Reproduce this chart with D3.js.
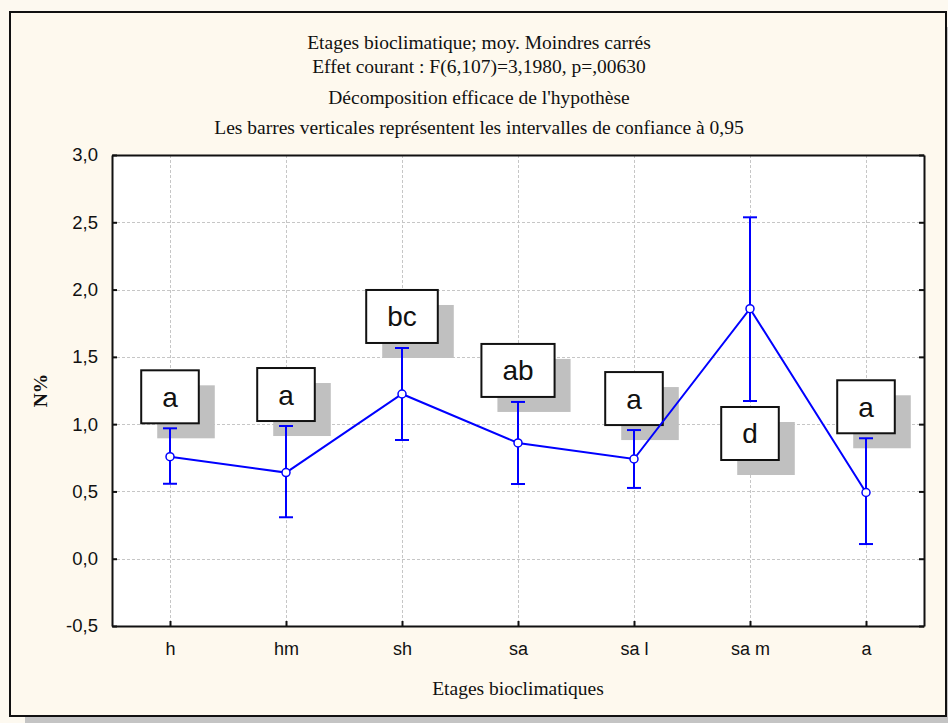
<!DOCTYPE html>
<html>
<head>
<meta charset="utf-8">
<script src="https://cdn.jsdelivr.net/npm/d3@7"></script>
<style>
  html, body { margin: 0; padding: 0; background: #fdf9f0; }
  svg { display: block; }
</style>
</head>
<body>
<svg id="chart" width="948" height="723"></svg>
<script>
// Least-squares means of N% by bioclimatic stage, with 95% confidence bounds
const categories = ["h", "hm", "sh", "sa", "sa l", "sa m", "a"];
const means      = [0.758, 0.640, 1.224, 0.860, 0.741, 1.858, 0.492];
const lowerCI    = [0.557, 0.308, 0.882, 0.555, 0.526, 1.172, 0.109];
const upperCI    = [0.969, 0.986, 1.566, 1.165, 0.956, 2.537, 0.895];
// Homogeneous-group letters and whether each sits above or below its bar
const groupLetters = ["a", "a", "bc", "ab", "a", "d", "a"];
const letterSide   = ["above", "above", "above", "above", "above", "below", "above"];
const yTicks = [-0.5, 0, 0.5, 1, 1.5, 2, 2.5, 3];

const titleLines = [
  "Etages bioclimatique; moy. Moindres carrés",
  "Effet courant : F(6,107)=3,1980, p=,00630",
  "Décomposition efficace de l'hypothèse",
  "Les barres verticales représentent les intervalles de confiance à 0,95"
];
const xTitle = "Etages bioclimatiques";
const yTitle = "N%";

const svg = d3.select("#chart");
const serif = "'Liberation Serif', 'Times New Roman', serif";
const sans = "'Liberation Sans', Arial, sans-serif";

// outer panel with drop shadow
svg.append("rect").attr("x", 25).attr("y", 716).attr("width", 940).attr("height", 8).attr("fill", "#c4c4c4");
svg.append("rect").attr("x", 946).attr("y", 27).attr("width", 8).attr("height", 700).attr("fill", "#c4c4c4");
svg.append("rect").attr("x", 10).attr("y", 12).attr("width", 936).attr("height", 704)
  .attr("fill", "#fef9ee").attr("stroke", "#111").attr("stroke-width", 2);

const plot = { left: 112, right: 924, top: 155, bottom: 626 };

const x = d3.scalePoint().domain(categories).range([plot.left, plot.right]).padding(0.5);
const y = d3.scaleLinear().domain([-0.5, 3]).range([plot.bottom, plot.top]);

// plot background
svg.append("rect").attr("x", plot.left).attr("y", plot.top)
  .attr("width", plot.right - plot.left).attr("height", plot.bottom - plot.top)
  .attr("fill", "#ffffff");

// dashed grid
const grid = svg.append("g").attr("stroke", "#c6c6c6").attr("stroke-width", 1).attr("stroke-dasharray", "3,2");
grid.selectAll("line.h").data(yTicks.slice(1, -1)).join("line")
  .attr("x1", plot.left).attr("x2", plot.right)
  .attr("y1", d => Math.round(y(d)) + 0.5).attr("y2", d => Math.round(y(d)) + 0.5);
grid.selectAll("line.v").data(categories).join("line")
  .attr("y1", plot.top).attr("y2", plot.bottom)
  .attr("x1", d => Math.round(x(d)) + 0.5).attr("x2", d => Math.round(x(d)) + 0.5);

// axes
const fmt = d => d3.format(".1f")(d).replace(".", ",").replace("−", "-");
const yAxisL = d3.axisLeft(y).tickValues(yTicks).tickSizeInner(-5).tickSizeOuter(0).tickPadding(14).tickFormat(fmt);
const yAxisR = d3.axisRight(y).tickValues(yTicks).tickSizeInner(-5).tickSizeOuter(0).tickFormat("");
const xAxisB = d3.axisBottom(x).tickSizeInner(-5).tickSizeOuter(0).tickPadding(16);
const xAxisT = d3.axisTop(x).tickSizeInner(0).tickSizeOuter(0).tickFormat("");

function styleAxis(g, size) {
  g.select(".domain").attr("stroke", "#111").attr("stroke-width", 2);
  g.selectAll(".tick line").attr("stroke", "#111").attr("stroke-width", 2);
  g.selectAll(".tick text").attr("fill", "#111").attr("font-family", sans).attr("font-size", size);
}
svg.append("g").attr("transform", `translate(${plot.left},0)`).call(yAxisL).call(styleAxis, 18.5);
svg.append("g").attr("transform", `translate(${plot.right},0)`).call(yAxisR).call(styleAxis, 18);
svg.append("g").attr("transform", `translate(0,${plot.bottom})`).call(xAxisB).call(styleAxis, 18);
svg.append("g").attr("transform", `translate(0,${plot.top})`).call(xAxisT).call(styleAxis, 18);

// titles
svg.append("g").selectAll("text").data(titleLines).join("text")
  .attr("x", 479).attr("y", (d, i) => [48.5, 72.5, 103.5, 133.5][i])
  .attr("text-anchor", "middle").attr("font-family", serif).attr("font-size", 19.5).attr("fill", "#111")
  .text(d => d);

svg.append("text").attr("x", (plot.left + plot.right) / 2).attr("y", 695)
  .attr("text-anchor", "middle").attr("font-family", serif).attr("font-size", 19.5).attr("fill", "#111")
  .text(xTitle);

svg.append("text").attr("transform", `translate(47,${(plot.top + plot.bottom) / 2}) rotate(-90)`)
  .attr("text-anchor", "middle").attr("font-family", serif).attr("font-size", 19.5)
  .attr("font-weight", "bold").attr("fill", "#111").text(yTitle);

// group-letter boxes with offset shadow
const boxH = 53, shadowDx = 16, shadowDy = 15;
const boxes = svg.append("g");
categories.forEach((c, i) => {
  const cx = x(c);
  const g = boxes.append("g");
  const t = g.append("text").attr("font-family", sans).attr("font-size", 28).text(groupLetters[i]);
  const tw = t.node().getComputedTextLength();
  const w = Math.max(55, tw + 42);
  const top = letterSide[i] === "above" ? y(upperCI[i]) - 5 - boxH : y(lowerCI[i]) + 6;
  g.insert("rect", "text").attr("x", cx - w / 2 + shadowDx).attr("y", top + shadowDy)
    .attr("width", w).attr("height", boxH).attr("fill", "#c0c0c0");
  g.insert("rect", "text").attr("x", cx - w / 2).attr("y", top)
    .attr("width", w).attr("height", boxH).attr("fill", "#fff")
    .attr("stroke", "#111").attr("stroke-width", 2);
  t.attr("x", cx).attr("y", top + boxH / 2 + 10).attr("text-anchor", "middle").attr("fill", "#111");
});

// confidence intervals
const blue = "#0000ff";
const ci = svg.append("g").attr("stroke", blue).attr("stroke-width", 2);
categories.forEach((c, i) => {
  const cx = x(c);
  ci.append("line").attr("x1", cx).attr("x2", cx).attr("y1", y(lowerCI[i])).attr("y2", y(upperCI[i]));
  ci.append("line").attr("x1", cx - 7).attr("x2", cx + 7).attr("y1", y(lowerCI[i])).attr("y2", y(lowerCI[i]));
  ci.append("line").attr("x1", cx - 7).attr("x2", cx + 7).attr("y1", y(upperCI[i])).attr("y2", y(upperCI[i]));
});

// mean line and markers
const line = d3.line().x((d, i) => x(categories[i])).y(d => y(d));
svg.append("path").datum(means).attr("d", line).attr("fill", "none").attr("stroke", blue).attr("stroke-width", 2);
svg.append("g").selectAll("circle").data(means).join("circle")
  .attr("cx", (d, i) => x(categories[i])).attr("cy", d => y(d)).attr("r", 4)
  .attr("fill", "#fff").attr("stroke", blue).attr("stroke-width", 1.5);
</script>
</body>
</html>
